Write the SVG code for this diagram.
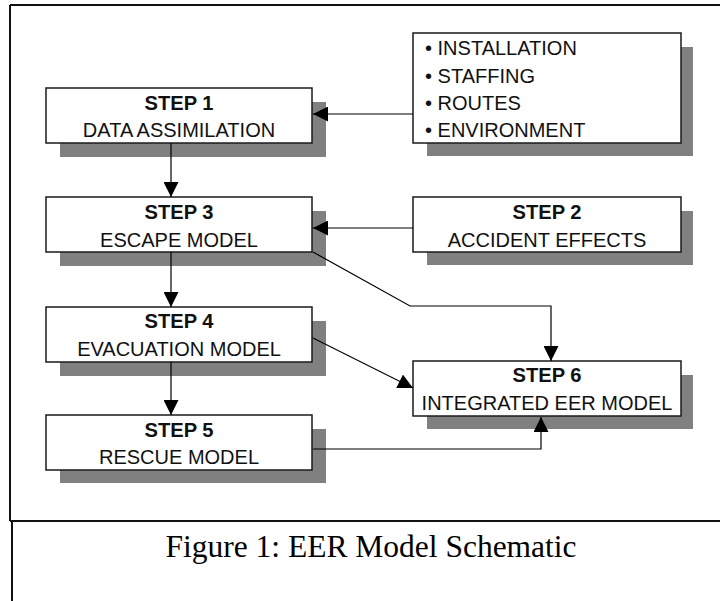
<svg xmlns="http://www.w3.org/2000/svg" width="720" height="601" viewBox="0 0 720 601">
<defs>
<style>
.box{fill:#fff;stroke:#1a1a1a;stroke-width:1.5}
.sh{fill:#808080}
.t{font-family:"Liberation Sans",Arial,sans-serif;font-size:20px;fill:#111;text-anchor:middle}
.b{font-weight:bold;font-size:21px}
.li{font-family:"Liberation Sans",Arial,sans-serif;font-size:20px;fill:#111}
.c{fill:none;stroke:#000;stroke-width:1.2}
.frame{fill:none;stroke:#111;stroke-width:2}
.cap{font-family:"Liberation Serif","Times New Roman",serif;font-size:31.5px;fill:#000;text-anchor:middle}
</style>
<marker id="ah" markerWidth="15" markerHeight="15" refX="15" refY="7.5" orient="auto" markerUnits="userSpaceOnUse">
<path d="M0,0 L15,7.5 L0,15 z" fill="#000"/>
</marker>
</defs>
<rect width="720" height="601" fill="#fff"/>
<path class="frame" d="M10,5 H721 M10,5 V521 M10,521 H721 M12,521 V602"/>
<g id="info">
<rect class="sh" x="427" y="47" width="266" height="109"/>
<rect class="box" x="413" y="33" width="268" height="110"/>
<text class="li" x="425" y="55">• INSTALLATION</text>
<text class="li" x="425" y="82.7">• STAFFING</text>
<text class="li" x="425" y="110">• ROUTES</text>
<text class="li" x="425" y="137.3">• ENVIRONMENT</text>
</g>
<g id="step1">
<rect class="sh" x="60" y="102" width="266" height="55"/>
<rect class="box" x="46" y="88" width="266" height="55"/>
<text class="t b" x="179" y="110" textLength="69" lengthAdjust="spacingAndGlyphs">STEP 1</text>
<text class="t" x="179" y="137">DATA ASSIMILATION</text>
</g>
<g id="step2">
<rect class="sh" x="427" y="211" width="266" height="54"/>
<rect class="box" x="413" y="197" width="268" height="55"/>
<text class="t b" x="547" y="219" textLength="69" lengthAdjust="spacingAndGlyphs">STEP 2</text>
<text class="t" x="547" y="246.5">ACCIDENT EFFECTS</text>
</g>
<g id="step3">
<rect class="sh" x="60" y="211" width="266" height="55"/>
<rect class="box" x="46" y="197" width="266" height="55"/>
<text class="t b" x="179" y="219" textLength="69" lengthAdjust="spacingAndGlyphs">STEP 3</text>
<text class="t" x="179" y="246.5">ESCAPE MODEL</text>
</g>
<g id="step4">
<rect class="sh" x="60" y="321" width="266" height="55"/>
<rect class="box" x="46" y="307" width="266" height="55"/>
<text class="t b" x="179" y="328" textLength="69" lengthAdjust="spacingAndGlyphs">STEP 4</text>
<text class="t" x="179" y="355.5">EVACUATION MODEL</text>
</g>
<g id="step5">
<rect class="sh" x="60" y="429" width="266" height="54"/>
<rect class="box" x="46" y="415" width="266" height="55"/>
<text class="t b" x="179" y="436.7" textLength="69" lengthAdjust="spacingAndGlyphs">STEP 5</text>
<text class="t" x="179" y="464">RESCUE MODEL</text>
</g>
<g id="step6">
<rect class="sh" x="427" y="375" width="266" height="54"/>
<rect class="box" x="413" y="361" width="268" height="55"/>
<text class="t b" x="547" y="382.3" textLength="69" lengthAdjust="spacingAndGlyphs">STEP 6</text>
<text class="t" x="547" y="410">INTEGRATED EER MODEL</text>
</g>
<g id="connectors">
<path class="c" d="M413,114 H313" marker-end="url(#ah)"/>
<path class="c" d="M171,143 V197" marker-end="url(#ah)"/>
<path class="c" d="M413,228 H313" marker-end="url(#ah)"/>
<path class="c" d="M171,252 V307" marker-end="url(#ah)"/>
<path class="c" d="M313,252 L410,306 H551 V361" marker-end="url(#ah)"/>
<path class="c" d="M313,338 L413,388" marker-end="url(#ah)"/>
<path class="c" d="M171,362 V415" marker-end="url(#ah)"/>
<path class="c" d="M313,449 H541 V417" marker-end="url(#ah)"/>
</g>
<text class="cap" x="371" y="557">Figure 1: EER Model Schematic</text>
</svg>
